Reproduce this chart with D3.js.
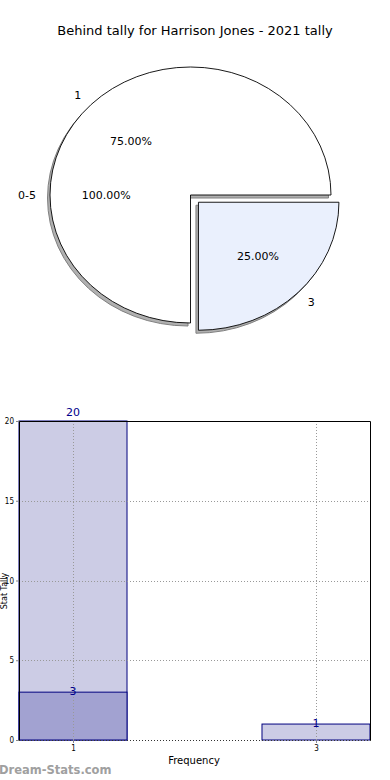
<!DOCTYPE html>
<html>
<head>
<meta charset="utf-8">
<script src="https://cdn.jsdelivr.net/npm/d3@7"></script>
<style>
  body { margin: 0; background: #fff; }
  svg { display: block; font-family: "DejaVu Sans", sans-serif; }
</style>
</head>
<body>
<svg id="chart" width="390" height="780"></svg>
<script>
// pie data
const pieLabels = ["1", "3"];
const pieValues = [75, 25];
const pieExplode = [0, 0.08];
const pieColors = ["#ffffff", "#eaf0fd"];
// stray label that the source draws at the left
const extraLabel = { label: "0-5", pct: "100.00%", angle: 180 };

// bar data
const barX = [1, 3];
const barTotals = [20, 1];
const barInner = [3, 0];
const yTicks = [0, 5, 10, 15, 20];

const svg = d3.select('#chart');

svg.append('text')
  .attr('x', 195).attr('y', 35)
  .attr('text-anchor', 'middle')
  .style('font-size', '13px')
  .text('Behind tally for Harrison Jones - 2021 tally');

// ---- pie (elliptical, matplotlib-like: starts east, counterclockwise)
const cx = 190.5, cy = 195, rx = 140.5, ry = 128;
const total = d3.sum(pieValues);

const pie = d3.pie().sort(null)
  .startAngle(Math.PI / 2)
  .endAngle(Math.PI / 2 - 2 * Math.PI);
const arcs = pie(pieValues);
const arc = d3.arc().innerRadius(0).outerRadius(1);

// point on the ellipse for a matplotlib angle in degrees
const ell = (deg, k) => {
  const a = deg * Math.PI / 180;
  return [k * Math.cos(a) * rx, -k * Math.sin(a) * ry];
};

arcs.forEach((d, i) => {
  const midDeg = 90 - ((d.startAngle + d.endAngle) / 2) * 180 / Math.PI;
  d.mid = midDeg;
  const [ox, oy] = ell(midDeg, pieExplode[i]);
  d.ox = cx + ox;
  d.oy = cy + oy;
});

const pieG = svg.append('g');

// shadows
pieG.selectAll('.shadow')
  .data(arcs)
  .enter().append('path')
  .attr('class', 'shadow')
  .attr('d', arc)
  .attr('transform', d => `translate(${d.ox - 2.5},${d.oy + 3}) scale(${rx},${ry})`)
  .attr('fill', '#b0b0b0')
  .attr('stroke', '#808080')
  .attr('stroke-width', 1)
  .attr('vector-effect', 'non-scaling-stroke');

pieG.selectAll('.wedge')
  .data(arcs)
  .enter().append('path')
  .attr('class', 'wedge')
  .attr('d', arc)
  .attr('transform', d => `translate(${d.ox},${d.oy}) scale(${rx},${ry})`)
  .attr('fill', (d, i) => pieColors[i])
  .attr('stroke', '#000')
  .attr('stroke-width', 0.9)
  .attr('vector-effect', 'non-scaling-stroke');

const labelItems = arcs.map((d, i) => ({
  x0: d.ox, y0: d.oy, angle: d.mid,
  label: pieLabels[i],
  pct: (pieValues[i] / total * 100).toFixed(2) + '%'
}));
labelItems.push({ x0: cx, y0: cy, angle: extraLabel.angle, label: extraLabel.label, pct: extraLabel.pct });

labelItems.forEach(d => {
  const [lx, ly] = ell(d.angle, 1.1);
  const [px, py] = ell(d.angle, 0.6);
  pieG.append('text')
    .attr('x', d.x0 + lx).attr('y', d.y0 + ly)
    .attr('dy', '0.35em')
    .attr('text-anchor', lx < 0 ? 'end' : 'start')
    .attr('fill', '#000')
    .style('font-size', '11px')
    .text(d.label);
  pieG.append('text')
    .attr('x', d.x0 + px).attr('y', d.y0 + py)
    .attr('dy', '0.35em')
    .attr('text-anchor', 'middle')
    .attr('fill', '#000')
    .style('font-size', '11px')
    .text(d.pct);
});

// ---- bar chart
const plotL = 19, plotR = 370, plotT = 421, plotB = 740;
const barW = 0.889;

const x = d3.scaleLinear()
  .domain([barX[0] - barW / 2, barX[1] + barW / 2])
  .range([plotL, plotR]);
const y = d3.scaleLinear().domain([0, 20]).range([plotB, plotT]);

const barG = svg.append('g');

barG.selectAll('.bar-total')
  .data(barX)
  .enter().append('rect')
  .attr('x', d => x(d - barW / 2))
  .attr('width', x(barW) - x(0))
  .attr('y', (d, i) => y(barTotals[i]))
  .attr('height', (d, i) => y(0) - y(barTotals[i]))
  .attr('fill', '#ccccE5')
  .attr('stroke', '#00007f')
  .attr('stroke-width', 1);

barG.selectAll('.bar-inner')
  .data(barX.filter((d, i) => barInner[i] > 0))
  .enter().append('rect')
  .attr('x', d => x(d - barW / 2))
  .attr('width', x(barW) - x(0))
  .attr('y', d => y(barInner[barX.indexOf(d)]))
  .attr('height', d => y(0) - y(barInner[barX.indexOf(d)]))
  .attr('fill', '#a2a2d1')
  .attr('stroke', '#00007f')
  .attr('stroke-width', 1);

// dotted grid
const grid = barG.append('g')
  .attr('stroke', '#999')
  .attr('stroke-width', 1)
  .attr('stroke-dasharray', '1,2');
grid.selectAll('.hg')
  .data(yTicks)
  .enter().append('line')
  .attr('x1', plotL).attr('x2', plotR)
  .attr('y1', d => Math.round(y(d)) + 0.5)
  .attr('y2', d => Math.round(y(d)) + 0.5);
grid.selectAll('.vg')
  .data(barX)
  .enter().append('line')
  .attr('x1', d => Math.round(x(d)) + 0.5)
  .attr('x2', d => Math.round(x(d)) + 0.5)
  .attr('y1', plotT).attr('y2', plotB);

// frame
barG.append('path')
  .attr('d', `M${plotL + 0.5},${plotB + 0.5}V${plotT + 0.5}H${plotR + 0.5}V${plotB + 0.5}`)
  .attr('fill', 'none')
  .attr('stroke', '#000')
  .attr('stroke-width', 1);
barG.append('line')
  .attr('x1', plotL).attr('x2', plotR + 1)
  .attr('y1', plotB + 0.5).attr('y2', plotB + 0.5)
  .attr('stroke', '#333')
  .attr('stroke-dasharray', '1,2');

// axes
const yAxis = d3.axisLeft(y).tickValues(yTicks).tickSize(3).tickPadding(2);
barG.append('g')
  .attr('transform', `translate(${plotL},0)`)
  .call(yAxis)
  .call(g => g.select('.domain').remove())
  .call(g => g.selectAll('line').attr('stroke', '#888'))
  .selectAll('text')
  .style('font-size', '8px')
  .attr('font-family', 'DejaVu Sans Condensed, DejaVu Sans');

const xAxis = d3.axisBottom(x).tickValues(barX).tickFormat(d3.format('d'))
  .tickSize(3).tickPadding(2);
barG.append('g')
  .attr('transform', `translate(0,${plotB})`)
  .call(xAxis)
  .call(g => g.select('.domain').remove())
  .call(g => g.selectAll('line').attr('stroke', '#888'))
  .selectAll('text')
  .style('font-size', '8px')
  .attr('font-family', 'DejaVu Sans Condensed, DejaVu Sans');

// value labels
const valueLabels = barX.map((d, i) => ({ x: d, v: barTotals[i] }))
  .concat(barX.map((d, i) => ({ x: d, v: barInner[i] })).filter(d => d.v > 0));
barG.selectAll('.vlabel')
  .data(valueLabels)
  .enter().append('text')
  .attr('x', d => x(d.x))
  .attr('y', d => d.v === y.domain()[1] ? y(d.v) - 9 : y(d.v) - 1)
  .attr('dy', '0.35em')
  .attr('text-anchor', 'middle')
  .attr('fill', '#00008b')
  .style('font-size', '11px')
  .text(d => d.v);

svg.append('text')
  .attr('x', 194).attr('y', 764)
  .attr('text-anchor', 'middle')
  .style('font-size', '10px')
  .text('Frequency');

svg.append('text')
  .attr('transform', 'translate(7,591) rotate(-90)')
  .attr('text-anchor', 'middle')
  .style('font-size', '8px')
  .text('Stat Tally');

svg.append('text')
  .attr('x', -1).attr('y', 774)
  .style('font-size', '11.5px')
  .style('font-weight', 'bold')
  .attr('fill', '#a0a0a0')
  .text('Dream-Stats.com');
</script>
</body>
</html>
